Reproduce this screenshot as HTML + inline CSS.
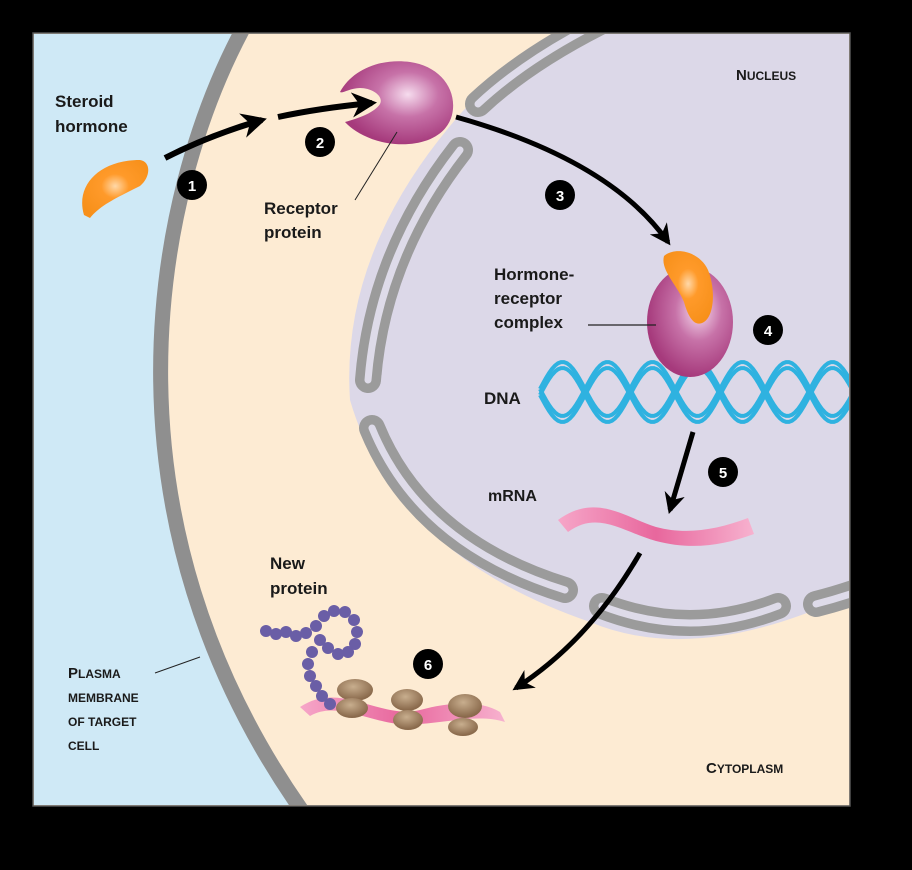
<!DOCTYPE html>
<html><head><meta charset="utf-8"><style>
html,body{margin:0;padding:0;background:#000;width:912px;height:870px;overflow:hidden}
svg{display:block}
text{font-family:"Liberation Sans",sans-serif;font-weight:bold;fill:#1a1a1a}
.num{fill:#fff;font-size:15px;text-anchor:middle}
.sc{font-size:15px}
</style></head><body>
<svg id="s" width="912" height="870" viewBox="0 0 912 870">
<defs>
<radialGradient id="gOr" cx="0.5" cy="0.45" r="0.6"><stop offset="0" stop-color="#ffd8a8"/><stop offset="0.35" stop-color="#ff9a2a"/><stop offset="1" stop-color="#f7901a"/></radialGradient>
<radialGradient id="gMag" cx="0.6" cy="0.4" r="0.6"><stop offset="0" stop-color="#f6dcee"/><stop offset="0.45" stop-color="#c772a8"/><stop offset="1" stop-color="#a63a7c"/></radialGradient>
<radialGradient id="gRib" cx="0.45" cy="0.35" r="0.6"><stop offset="0" stop-color="#c8ae8e"/><stop offset="1" stop-color="#8a6a4c"/></radialGradient>
<linearGradient id="gPink" x1="0" x2="1"><stop offset="0" stop-color="#f6a6c8"/><stop offset="0.5" stop-color="#e8679d"/><stop offset="1" stop-color="#f7b2cf"/></linearGradient>
<marker id="ah" viewBox="0 0 10 10" refX="8" refY="5" markerWidth="4.2" markerHeight="4.2" orient="auto"><path d="M0,0 L10,5 L0,10 L3,5 Z" fill="#000"/></marker>
<clipPath id="clip"><rect x="34" y="34" width="815" height="771"/></clipPath>
</defs>
<rect x="33" y="33" width="817" height="773" fill="#fdebd3" stroke="#555" stroke-width="1.5"/>
<g clip-path="url(#clip)">
<path d="M34 34 L245 34 C150 200 95 520 300 806 L34 806 Z" fill="#cfe9f6"/>
<path d="M245 25 C150 200 95 520 305 815" fill="none" stroke="#8f8f8f" stroke-width="15"/>
<path d="M600 20 L860 20 L860 590 Q700 668 590 622 Q395 555 350 400 Q340 250 462 112 Q520 50 600 20 Z" fill="#dcd8e8"/>
<g id="env"></g>
<g id="dna"></g>
</g>
<!-- arrows -->
<path d="M165 158 Q210 135 262 120" fill="none" stroke="#000" stroke-width="6" marker-end="url(#ah)"/>
<path d="M278 117 Q320 108 372 103" fill="none" stroke="#000" stroke-width="6" marker-end="url(#ah)"/>
<path d="M456 117 Q610 160 668 242" fill="none" stroke="#000" stroke-width="5" marker-end="url(#ah)"/>
<path d="M693 432 L670 510" fill="none" stroke="#000" stroke-width="5" marker-end="url(#ah)"/>
<path d="M640 553 Q590 640 516 688" fill="none" stroke="#000" stroke-width="5" marker-end="url(#ah)"/>
<!-- hormone -->
<path d="M84 215 C75 185 100 160 140 160 C152 162 150 178 140 186 C120 196 100 205 90 218 Z" fill="url(#gOr)"/>
<!-- receptor -->
<path d="M340 92 C352 70 380 58 410 62 C440 66 458 90 452 115 C446 138 420 146 395 144 C370 142 352 130 345 122 C360 118 375 112 380 104 C384 96 372 88 360 88 C350 88 342 94 340 92 Z" fill="url(#gMag)"/>
<line x1="397" y1="132" x2="355" y2="200" stroke="#222" stroke-width="1"/>
<!-- complex -->
<ellipse cx="690" cy="322" rx="43" ry="55" fill="url(#gMag)"/>
<path d="M664 256 C676 246 700 252 708 270 C716 290 714 316 704 322 C694 328 688 316 684 302 C678 286 660 270 664 256 Z" fill="url(#gOr)"/>
<line x1="588" y1="325" x2="656" y2="325" stroke="#222" stroke-width="1.2"/>
<!-- mRNA -->
<path d="M558 520 C596 492 626 518 656 527 C686 535 716 530 748 518 L754 534 C722 546 690 550 656 541 C623 532 598 510 568 532 Z" fill="url(#gPink)"/>
<path d="M300 707 C340 680 380 720 420 710 C450 702 480 700 500 712 L505 722 C480 714 450 722 420 724 C380 730 340 698 310 716 Z" fill="url(#gPink)"/>
<g id="prot"></g>
<g>
<ellipse cx="355" cy="690" rx="18" ry="11" fill="url(#gRib)"/><ellipse cx="352" cy="708" rx="16" ry="10" fill="url(#gRib)"/>
<ellipse cx="407" cy="700" rx="16" ry="11" fill="url(#gRib)"/><ellipse cx="408" cy="720" rx="15" ry="10" fill="url(#gRib)"/>
<ellipse cx="465" cy="706" rx="17" ry="12" fill="url(#gRib)"/><ellipse cx="463" cy="727" rx="15" ry="9" fill="url(#gRib)"/>
</g>
<line x1="155" y1="673" x2="200" y2="657" stroke="#222" stroke-width="1"/>
<!-- number badges -->
<g><circle cx="192" cy="185" r="15" fill="#000"/><text class="num" x="192" y="191">1</text></g>
<g><circle cx="320" cy="142" r="15" fill="#000"/><text class="num" x="320" y="148">2</text></g>
<g><circle cx="560" cy="195" r="15" fill="#000"/><text class="num" x="560" y="201">3</text></g>
<g><circle cx="768" cy="330" r="15" fill="#000"/><text class="num" x="768" y="336">4</text></g>
<g><circle cx="723" cy="472" r="15" fill="#000"/><text class="num" x="723" y="478">5</text></g>
<g><circle cx="428" cy="664" r="15" fill="#000"/><text class="num" x="428" y="670">6</text></g>
<!-- labels -->
<text x="55" y="107" font-size="17"><tspan x="55">Steroid</tspan><tspan x="55" dy="25">hormone</tspan></text>
<text x="264" y="214" font-size="17"><tspan x="264">Receptor</tspan><tspan x="264" dy="24">protein</tspan></text>
<text x="736" y="80" class="sc">N<tspan font-size="12">UCLEUS</tspan></text>
<text x="494" y="280" font-size="17"><tspan x="494">Hormone-</tspan><tspan x="494" dy="24">receptor</tspan><tspan x="494" dy="24">complex</tspan></text>
<text x="484" y="404" font-size="17">DNA</text>
<text x="488" y="501" font-size="16">mRNA</text>
<text x="270" y="569" font-size="17"><tspan x="270">New</tspan><tspan x="270" dy="25">protein</tspan></text>
<text x="68" y="678" class="sc"><tspan x="68">P<tspan font-size="12">LASMA</tspan></tspan><tspan x="68" dy="24" font-size="12">MEMBRANE</tspan><tspan x="68" dy="24" font-size="12">OF TARGET</tspan><tspan x="68" dy="24" font-size="12">CELL</tspan></text>
<text x="706" y="773" class="sc">C<tspan font-size="12">YTOPLASM</tspan></text>
</svg>
<script>
const NS='http://www.w3.org/2000/svg';
const segPaths=['M600 22 Q525 60 478 104','M460 150 Q378 255 368 380','M372 428 Q420 545 565 590','M602 606 Q690 640 778 606','M816 604 Q840 598 862 590'];
const env=document.getElementById('env');
segPaths.forEach(d=>{
 const o=document.createElementNS(NS,'path');o.setAttribute('d',d);o.setAttribute('fill','none');o.setAttribute('stroke','#9b9b9b');o.setAttribute('stroke-width','26');o.setAttribute('stroke-linecap','round');
 
 
 env.appendChild(o);
 const i=document.createElementNS(NS,'path');i.setAttribute('d',d);i.setAttribute('fill','none');i.setAttribute('stroke','#dedbe9');i.setAttribute('stroke-width','7');i.setAttribute('stroke-linecap','round');
 
 
 env.appendChild(i);
});
const dna=document.getElementById('dna');
[0,Math.PI].forEach(ph=>{
 [-3,3].forEach(off=>{
  let d='';for(let x=540;x<=860;x+=3){const y=392+off+27*Math.sin((x-540)/90*2*Math.PI+ph);d+=(x==540?'M':'L')+x+' '+y.toFixed(1);}
  const p=document.createElementNS(NS,'path');p.setAttribute('d',d);p.setAttribute('fill','none');p.setAttribute('stroke','#2fb2e0');p.setAttribute('stroke-width','4');
  
  
  dna.appendChild(p);
 });
});
const prot=document.getElementById('prot');
const beads=[[266,631],[276,634],[286,632],[296,636],[306,633],[316,626],[324,616],[334,611],[345,612],[354,620],[357,632],[355,644],[348,652],[338,654],[328,648],[320,640],[312,652],[308,664],[310,676],[316,686],[322,696],[330,704]];
beads.forEach(b=>{const c=document.createElementNS(NS,'circle');c.setAttribute('cx',b[0]);c.setAttribute('cy',b[1]);c.setAttribute('r','6');c.setAttribute('fill','#6a5ea6');
 
 
 prot.appendChild(c);});
</script>
</body></html>
